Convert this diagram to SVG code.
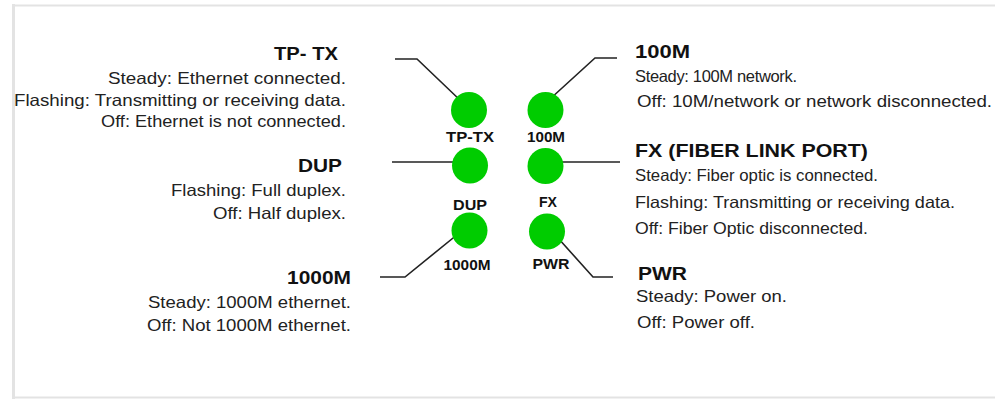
<svg xmlns="http://www.w3.org/2000/svg" width="995" height="400" viewBox="0 0 995 400">
<style>
  .frame { stroke: #e3e3e3; fill: none; }
  .conn { stroke: #222; stroke-width: 1.6; fill: none; stroke-linejoin: miter; }
  .led { fill: #00cc00; }
  .lbl { font-family: "Liberation Sans", Arial, sans-serif; font-weight: bold; font-size: 14px; fill: #111; text-anchor: middle; }
  .ttl { font-family: "Liberation Sans", Arial, sans-serif; font-weight: bold; font-size: 18.5px; fill: #111; }
  .txt { font-family: "Liberation Sans", Arial, sans-serif; font-size: 16.5px; fill: #222; }
  .l { text-anchor: end; }
  .r { text-anchor: start; }
</style>
<rect x="0" y="0" width="995" height="400" fill="#ffffff"/>
<line class="frame" x1="13.5" y1="4" x2="13.5" y2="399" stroke-width="3"/>
<line class="frame" x1="12" y1="5.5" x2="995" y2="5.5" stroke-width="2"/>
<line class="frame" x1="12" y1="397.5" x2="995" y2="397.5" stroke-width="2"/>

<g id="connectors">
  <polyline class="conn" points="395,59 417,59 462,102"/>
  <polyline class="conn" points="617,58 595,58 550,99"/>
  <polyline class="conn" points="392,162 456,162"/>
  <polyline class="conn" points="560,162 620,162"/>
  <polyline class="conn" points="380,277 405,277 458,234"/>
  <polyline class="conn" points="558,238 593,277 613,277"/>
</g>

<g id="led-tptx">
  <circle class="led" cx="469" cy="110" r="18"/>
  <text class="lbl" x="470" y="142" textLength="48" lengthAdjust="spacingAndGlyphs">TP-TX</text>
</g>
<g id="led-100m">
  <circle class="led" cx="545.5" cy="110" r="18"/>
  <text class="lbl" x="546" y="142" textLength="38" lengthAdjust="spacingAndGlyphs">100M</text>
</g>
<g id="led-dup">
  <circle class="led" cx="470" cy="165.5" r="18"/>
  <text class="lbl" x="470" y="210" textLength="34" lengthAdjust="spacingAndGlyphs">DUP</text>
</g>
<g id="led-fx">
  <circle class="led" cx="545.5" cy="166" r="18"/>
  <text class="lbl" x="548" y="207" textLength="18" lengthAdjust="spacingAndGlyphs">FX</text>
</g>
<g id="led-1000m">
  <circle class="led" cx="469.5" cy="230.5" r="18"/>
  <text class="lbl" x="467" y="270" textLength="47" lengthAdjust="spacingAndGlyphs">1000M</text>
</g>
<g id="led-pwr">
  <circle class="led" cx="547" cy="231.5" r="18"/>
  <text class="lbl" x="551" y="269" textLength="37" lengthAdjust="spacingAndGlyphs">PWR</text>
</g>

<g id="desc-tptx">
  <text class="ttl l" x="338" y="60" textLength="64" lengthAdjust="spacingAndGlyphs">TP- TX</text>
  <text class="txt l" x="346" y="84" textLength="238" lengthAdjust="spacingAndGlyphs">Steady: Ethernet connected.</text>
  <text class="txt l" x="346" y="106" textLength="332" lengthAdjust="spacingAndGlyphs">Flashing: Transmitting or receiving data.</text>
  <text class="txt l" x="346" y="127" textLength="245" lengthAdjust="spacingAndGlyphs">Off: Ethernet is not connected.</text>
</g>
<g id="desc-dup">
  <text class="ttl l" x="342" y="172" textLength="44" lengthAdjust="spacingAndGlyphs">DUP</text>
  <text class="txt l" x="346" y="196" textLength="175" lengthAdjust="spacingAndGlyphs">Flashing: Full duplex.</text>
  <text class="txt l" x="346" y="219" textLength="133" lengthAdjust="spacingAndGlyphs">Off: Half duplex.</text>
</g>
<g id="desc-1000m">
  <text class="ttl l" x="351" y="284" textLength="64" lengthAdjust="spacingAndGlyphs">1000M</text>
  <text class="txt l" x="351" y="308" textLength="203" lengthAdjust="spacingAndGlyphs">Steady: 1000M ethernet.</text>
  <text class="txt l" x="351" y="331" textLength="204" lengthAdjust="spacingAndGlyphs">Off: Not 1000M ethernet.</text>
</g>
<g id="desc-100m">
  <text class="ttl r" x="635" y="58" textLength="55" lengthAdjust="spacingAndGlyphs">100M</text>
  <text class="txt r" x="635" y="82" textLength="162" lengthAdjust="spacing">Steady: 100M network.</text>
  <text class="txt r" x="637" y="107" textLength="355" lengthAdjust="spacingAndGlyphs">Off: 10M/network or network disconnected.</text>
</g>
<g id="desc-fx">
  <text class="ttl r" x="635" y="157" textLength="233" lengthAdjust="spacingAndGlyphs">FX (FIBER LINK PORT)</text>
  <text class="txt r" x="635" y="181" textLength="243" lengthAdjust="spacingAndGlyphs">Steady: Fiber optic is connected.</text>
  <text class="txt r" x="635" y="208" textLength="320" lengthAdjust="spacingAndGlyphs">Flashing: Transmitting or receiving data.</text>
  <text class="txt r" x="635" y="234" textLength="233" lengthAdjust="spacingAndGlyphs">Off: Fiber Optic disconnected.</text>
</g>
<g id="desc-pwr">
  <text class="ttl r" x="638" y="280" textLength="49" lengthAdjust="spacingAndGlyphs">PWR</text>
  <text class="txt r" x="636" y="302" textLength="151" lengthAdjust="spacingAndGlyphs">Steady: Power on.</text>
  <text class="txt r" x="637" y="328" textLength="118" lengthAdjust="spacingAndGlyphs">Off: Power off.</text>
</g>
</svg>
